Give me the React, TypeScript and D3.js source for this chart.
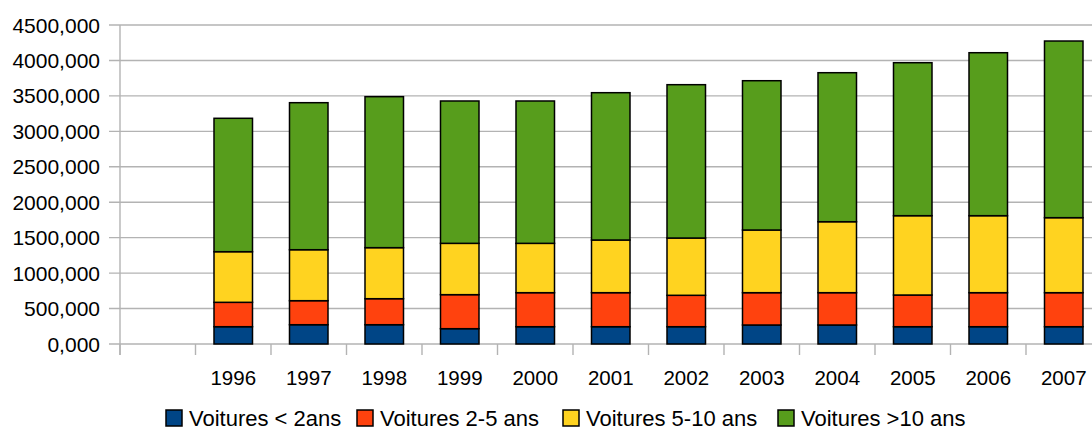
import React from "react";
import * as d3 from "d3";

// Categories: the first slot is left empty on the axis
const categories = ["", "1996", "1997", "1998", "1999", "2000", "2001", "2002", "2003", "2004", "2005", "2006", "2007"];

const seriesNames = ["Voitures < 2ans", "Voitures 2-5 ans", "Voitures 5-10 ans", "Voitures >10 ans"];
const seriesColors = ["#004586", "#ff420e", "#ffd320", "#579d1c"];

// Values per year (thousands of cars), aligned with categories; null = no bar
const under2 = [null, 244, 272, 272, 216, 244, 244, 244, 268, 268, 244, 244, 244];
const from2to5 = [null, 344, 339, 367, 480, 480, 480, 443, 456, 456, 447, 480, 480];
const from5to10 = [null, 714, 719, 720, 724, 696, 743, 808, 884, 1001, 1119, 1086, 1058];
const over10 = [null, 1882, 2074, 2130, 2008, 2008, 2078, 2163, 2106, 2102, 2158, 2299, 2492];

const yTicks = [0, 500, 1000, 1500, 2000, 2500, 3000, 3500, 4000, 4500];

const W = 1092;
const H = 430;
const left = 120;
const right = 1101.5;
const top = 25;
const bottom = 344;

const fmt = (v: number) => v.toFixed(3).replace(".", ",");

export default function App() {
  const x = d3.scaleBand<string>().domain(categories).range([left, right]).padding(0);
  const y = d3.scaleLinear().domain([0, 4500]).range([bottom, top]);
  const step = x.step();
  const barW = step * 0.51;

  const rows = categories.map((c, i) => ({
    cat: c,
    s0: under2[i] ?? 0,
    s1: from2to5[i] ?? 0,
    s2: from5to10[i] ?? 0,
    s3: over10[i] ?? 0,
    has: under2[i] != null,
  }));
  const stack = d3.stack<any>().keys(["s0", "s1", "s2", "s3"])(rows);

  const legendX = [166, 357, 563, 778];
  const font = "'Liberation Sans', Arial, sans-serif";

  return (
    <svg width={W} height={H} style={{ position: "absolute", left: 0, top: 0, background: "#fff" }} fontFamily={font}>
      {/* horizontal grid lines with outer ticks */}
      {yTicks.map((t) => (
        <g key={t}>
          <line x1={109} x2={W} y1={y(t)} y2={y(t)} stroke="#b3b3b3" strokeWidth={1.4} />
          <text x={100} y={y(t)} dy="0.36em" textAnchor="end" fontSize={21} fill="#000">
            {fmt(t)}
          </text>
        </g>
      ))}
      {/* vertical axis */}
      <line x1={left} x2={left} y1={y(4500)} y2={bottom + 11} stroke="#b3b3b3" strokeWidth={1.4} />
      {/* category boundary ticks */}
      {d3.range(categories.length + 1).map((i) => (
        <line key={i} x1={left + i * step} x2={left + i * step} y1={bottom} y2={bottom + 11} stroke="#b3b3b3" strokeWidth={1.4} />
      ))}
      {/* stacked bars */}
      {stack.map((layer, si) => (
        <g key={si}>
          {layer.map((d, i) =>
            rows[i].has ? (
              <rect
                key={i}
                x={(x(rows[i].cat) as number) + (step - barW) / 2}
                width={barW}
                y={y(d[1])}
                height={y(d[0]) - y(d[1])}
                fill={seriesColors[si]}
                stroke="#000"
                strokeWidth={1.5}
              />
            ) : null
          )}
        </g>
      ))}
      {/* category labels */}
      {categories.map((c) => (
        <text key={c} x={(x(c) as number) + step / 2} y={385} textAnchor="middle" fontSize={20.5} fill="#000">
          {c}
        </text>
      ))}
      {/* legend */}
      {seriesNames.map((n, i) => (
        <g key={n}>
          <rect x={legendX[i]} y={410} width={16} height={16} fill={seriesColors[i]} stroke="#000" strokeWidth={1.5} />
          <text x={legendX[i] + 23} y={426} fontSize={22} fill="#000">
            {n}
          </text>
        </g>
      ))}
    </svg>
  );
}
